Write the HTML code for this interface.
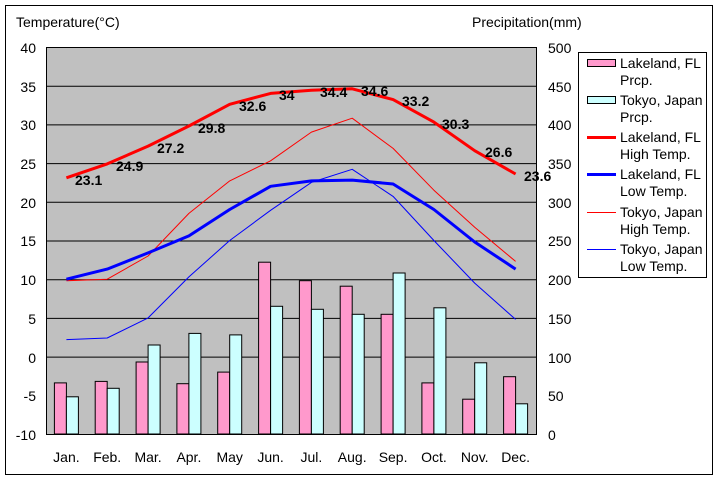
<!DOCTYPE html>
<html><head><style>body{margin:0;background:#fff}svg text{font-family:"Liberation Sans",sans-serif;font-size:14px}</style></head><body>
<svg width="720" height="480" xmlns="http://www.w3.org/2000/svg">
<rect x="5.5" y="5.5" width="707" height="469" fill="#fff" stroke="#000"/>
<rect x="46.5" y="47.5" width="490" height="387" fill="#c0c0c0" stroke="#000"/>
<g stroke="#000" stroke-width="1">
<line x1="46" x2="536" y1="86.2" y2="86.2"/><line x1="46" x2="536" y1="124.9" y2="124.9"/><line x1="46" x2="536" y1="163.6" y2="163.6"/><line x1="46" x2="536" y1="202.3" y2="202.3"/><line x1="46" x2="536" y1="241" y2="241"/><line x1="46" x2="536" y1="279.7" y2="279.7"/><line x1="46" x2="536" y1="318.4" y2="318.4"/><line x1="46" x2="536" y1="357.1" y2="357.1"/>
</g>
<g stroke="#000">
<rect x="54.4" y="382.9" width="12" height="51.1" fill="#ff99cc"/><rect x="66.4" y="396.8" width="12" height="37.2" fill="#ccffff"/>
<rect x="95.2" y="381.4" width="12" height="52.6" fill="#ff99cc"/><rect x="107.2" y="388.3" width="12" height="45.7" fill="#ccffff"/>
<rect x="136.1" y="362" width="12" height="72" fill="#ff99cc"/><rect x="148.1" y="345" width="12" height="89" fill="#ccffff"/>
<rect x="176.9" y="383.7" width="12" height="50.3" fill="#ff99cc"/><rect x="188.9" y="333.4" width="12" height="100.6" fill="#ccffff"/>
<rect x="217.7" y="372.1" width="12" height="61.9" fill="#ff99cc"/><rect x="229.7" y="334.9" width="12" height="99.1" fill="#ccffff"/>
<rect x="258.6" y="262.2" width="12" height="171.8" fill="#ff99cc"/><rect x="270.6" y="306.3" width="12" height="127.7" fill="#ccffff"/>
<rect x="299.4" y="280.7" width="12" height="153.3" fill="#ff99cc"/><rect x="311.4" y="309.3" width="12" height="124.7" fill="#ccffff"/>
<rect x="340.2" y="286.2" width="12" height="147.8" fill="#ff99cc"/><rect x="352.2" y="314.3" width="12" height="119.7" fill="#ccffff"/>
<rect x="381.1" y="314.3" width="12" height="119.7" fill="#ff99cc"/><rect x="393.1" y="273" width="12" height="161" fill="#ccffff"/>
<rect x="421.9" y="382.9" width="12" height="51.1" fill="#ff99cc"/><rect x="433.9" y="307.8" width="12" height="126.2" fill="#ccffff"/>
<rect x="462.7" y="399.2" width="12" height="34.8" fill="#ff99cc"/><rect x="474.7" y="362.8" width="12" height="71.2" fill="#ccffff"/>
<rect x="503.6" y="376.7" width="12" height="57.3" fill="#ff99cc"/><rect x="515.6" y="403.8" width="12" height="30.2" fill="#ccffff"/>
</g>
<g fill="none" stroke-linejoin="round">
<polyline stroke="#f00" stroke-width="1" points="66.4,280.7 107.2,279.2 148.1,256 188.9,213.4 229.7,180.9 270.6,160.8 311.4,132.1 352.2,118.2 393.1,148.4 433.9,190.2 474.7,227.3 515.6,261.4"/>
<polyline stroke="#00f" stroke-width="1" points="66.4,339.6 107.2,338 148.1,317.9 188.9,276.9 229.7,240.5 270.6,210.3 311.4,182.4 352.2,169.3 393.1,196.4 433.9,240.5 474.7,283.1 515.6,319.4"/>
<polyline stroke="#f00" stroke-width="3" points="66.4,177.8 107.2,163.9 148.1,146.1 188.9,126 229.7,104.3 270.6,93.4 311.4,90.3 352.2,88.8 393.1,99.6 433.9,122.1 474.7,150.7 515.6,174"/>
<polyline stroke="#00f" stroke-width="3" points="66.4,279.2 107.2,269.1 148.1,252.9 188.9,235.9 229.7,209.5 270.6,186.3 311.4,180.9 352.2,180.1 393.1,184 433.9,209.5 474.7,242 515.6,269.1"/>
</g>
<g font-weight="bold">
<text x="75" y="185">23.1</text><text x="116" y="171">24.9</text><text x="157" y="153">27.2</text><text x="198" y="133">29.8</text><text x="239" y="111">32.6</text><text x="279" y="100">34</text><text x="320" y="97">34.4</text><text x="361" y="96">34.6</text><text x="402" y="106">33.2</text><text x="442" y="129">30.3</text><text x="485" y="157">26.6</text><text x="524" y="181">23.6</text>
</g>
<g text-anchor="end">
<text x="36" y="53">40</text><text x="36" y="92">35</text><text x="36" y="130">30</text><text x="36" y="169">25</text><text x="36" y="208">20</text><text x="36" y="246">15</text><text x="36" y="285">10</text><text x="36" y="324">5</text><text x="36" y="363">0</text><text x="36" y="401">-5</text><text x="36" y="440">-10</text>
</g>
<g>
<text x="548" y="53">500</text><text x="548" y="92">450</text><text x="548" y="130">400</text><text x="548" y="169">350</text><text x="548" y="208">300</text><text x="548" y="246">250</text><text x="548" y="285">200</text><text x="548" y="324">150</text><text x="548" y="363">100</text><text x="548" y="401">50</text><text x="548" y="440">0</text>
</g>
<g text-anchor="middle">
<text x="66.4" y="462">Jan.</text><text x="107.2" y="462">Feb.</text><text x="148.1" y="462">Mar.</text><text x="188.9" y="462">Apr.</text><text x="229.7" y="462">May</text><text x="270.6" y="462">Jun.</text><text x="311.4" y="462">Jul.</text><text x="352.2" y="462">Aug.</text><text x="393.1" y="462">Sep.</text><text x="433.9" y="462">Oct.</text><text x="474.7" y="462">Nov.</text><text x="515.6" y="462">Dec.</text>
</g>
<text x="16" y="27">Temperature(°C)</text>
<text x="472" y="27">Precipitation(mm)</text>
<rect x="578.5" y="52.5" width="128" height="225" fill="#fff" stroke="#000"/>
<rect x="587.5" y="59.5" width="28" height="7" fill="#ff99cc" stroke="#000"/>
<rect x="587.5" y="96.5" width="28" height="7" fill="#ccffff" stroke="#000"/>
<line x1="587" x2="616" y1="137.5" y2="137.5" stroke="#f00" stroke-width="3"/>
<line x1="587" x2="616" y1="174.5" y2="174.5" stroke="#00f" stroke-width="3"/>
<line x1="587" x2="616" y1="212.5" y2="212.5" stroke="#f00"/>
<line x1="587" x2="616" y1="249.5" y2="249.5" stroke="#00f"/>
<g font-size="13">
<text x="620" y="68">Lakeland, FL</text><text x="620" y="85">Prcp.</text>
<text x="620" y="105">Tokyo, Japan</text><text x="620" y="122">Prcp.</text>
<text x="620" y="142">Lakeland, FL</text><text x="620" y="159">High Temp.</text>
<text x="620" y="179">Lakeland, FL</text><text x="620" y="196">Low Temp.</text>
<text x="620" y="217">Tokyo, Japan</text><text x="620" y="234">High Temp.</text>
<text x="620" y="254">Tokyo, Japan</text><text x="620" y="271">Low Temp.</text>
</g>
</svg>
</body></html>
